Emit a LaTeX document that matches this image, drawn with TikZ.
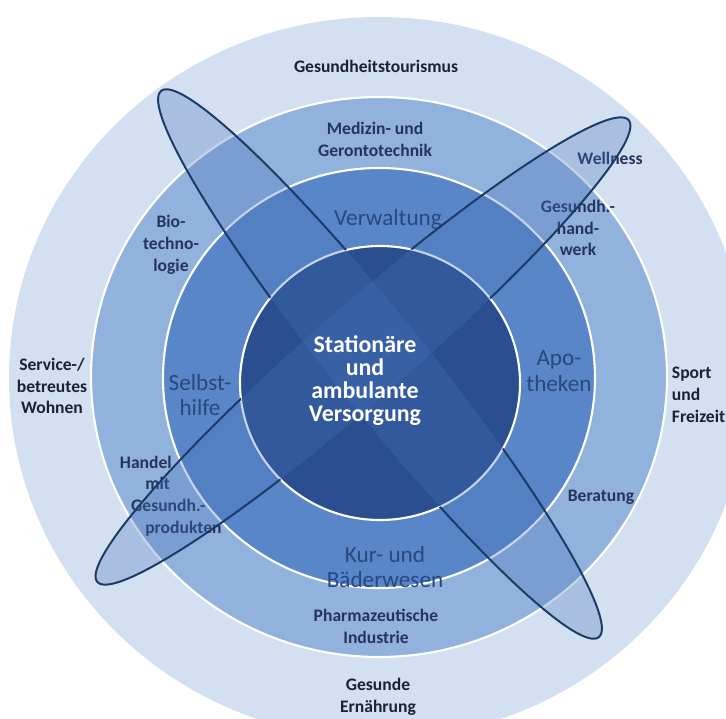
\documentclass[tikz,border=0pt]{standalone}
\usepackage{fontspec}
\setmainfont{Carlito}
\usetikzlibrary{positioning}
\definecolor{ringouter}{RGB}{211,224,241}
\definecolor{ringmid}{RGB}{146,178,222}
\definecolor{ringin}{RGB}{88,134,200}
\definecolor{core}{RGB}{42,78,143}
\definecolor{ovalfill}{RGB}{70,115,185}
\definecolor{ovalline}{RGB}{27,58,102}
\definecolor{txtdark}{RGB}{28,33,52}
\definecolor{txtnavy}{RGB}{36,52,92}
\definecolor{txtblue}{RGB}{40,72,128}
\tikzset{
  ring/.style = {draw=white, line width=1.5pt},
  oval/.style = {fill=ovalfill, fill opacity=0.3},
  ovalrim/.style = {draw=ovalline, line width=1.4pt},
  outerlbl/.style = {text=txtdark, font=\fontsize{12.5}{15.5}\selectfont\bfseries, align=center},
  midlbl/.style = {text=txtnavy, font=\fontsize{12.5}{15.5}\selectfont\bfseries, align=center},
  innerlbl/.style = {text=txtblue, font=\fontsize{16.5}{18}\selectfont, align=center},
  corelbl/.style = {text=white, font=\fontsize{17}{16.4}\selectfont\bfseries, align=center},
}

\begin{document}
\begin{tikzpicture}[x=0.025cm, y=-0.025cm]

  \useasboundingbox (0,0) rectangle (726,719);
  \clip (0,0) rectangle (726,719);

  % Rings
  \fill[ringouter] (379,378) ellipse [x radius=370, y radius=361];
  \fill[ringmid]   (379,377) ellipse [x radius=288, y radius=280];
  \fill[ringin]    (379,378) ellipse [x radius=216, y radius=210];
  \fill[core]      (380,383) ellipse [x radius=140, y radius=137];

  % Ring borders
  \draw[ring] (379,377) ellipse [x radius=288, y radius=280];
  \draw[ring] (379,378) ellipse [x radius=216, y radius=210];
  \draw[ring] (380,383) ellipse [x radius=140, y radius=137];

  % Outer labels
  \node[outerlbl] (tourism) at (376,66) {Gesundheitstourismus};
  \node[outerlbl] (service) at (52,386) {Service-/\\betreutes\\Wohnen};
  \node[outerlbl, align=left, anchor=west] (sport) at (667,395) {Sport\\und\\Freizeit};
  \node[outerlbl] (nutrition) at (378,697) {Gesunde\\Ernährung};
  \node[midlbl] (wellness) at (610,158) {Wellness};

  % Middle ring labels
  \node[midlbl] (medtech) at (375,139) {Medizin- und\\Gerontotechnik};
  \node[midlbl] (biotech) at (171,245) {Bio-\\techno-\\logie};
  \node[midlbl] (handwerk) at (578,228) {Gesundh.-\\hand-\\werk};
  \node[midlbl, align=left, anchor=west] (handel) at (115,496)
    {Handel\\\hspace*{18pt}mit\\\hspace*{8pt}Gesundh.-\\\hspace*{18pt}produkten};
  \node[midlbl] (beratung) at (601,497) {Beratung};
  \node[midlbl] (pharma) at (376,626) {Pharmazeutische\\Industrie};

  % Inner ring labels
  \node[innerlbl] (verwaltung) at (388,219) {Verwaltung};
  \node[innerlbl] (selbsthilfe) at (200,395) {Selbst-\\hilfe};
  \node[innerlbl] (apotheken) at (559,371) {Apo-\\theken};
  \node[innerlbl] (kur) at (385,567) {Kur- und\\Bäderwesen};

  % Ovals
  \fill[oval, rotate around={-51.3:(380,364)}] (380,364) ellipse [x radius=350, y radius=47];
  \fill[oval, rotate around={41:(363,351)}] (363,351) ellipse [x radius=352, y radius=47];
  \begin{scope}[even odd rule]
    \clip (0,0) rectangle (726,719) (380,383) ellipse [x radius=140, y radius=137];
    \draw[ovalrim, rotate around={-51.3:(380,364)}] (380,364) ellipse [x radius=350, y radius=47];
    \draw[ovalrim, rotate around={41:(363,351)}] (363,351) ellipse [x radius=352, y radius=47];
  \end{scope}

  % Core
  \node[corelbl] (care) at (365,381) {Stationäre\\und\\ambulante\\Versorgung};

\end{tikzpicture}
\end{document}
